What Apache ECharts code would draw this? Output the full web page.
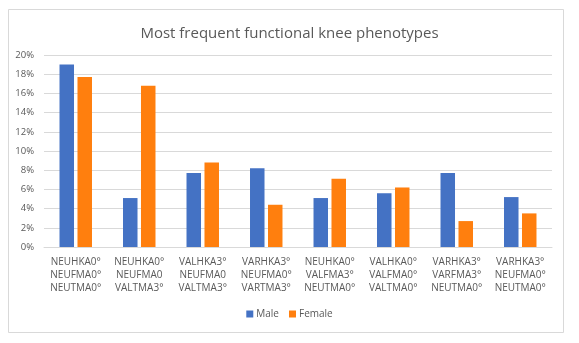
<!DOCTYPE html>
<html><head><meta charset="utf-8">
<script src="https://cdn.jsdelivr.net/npm/echarts@6/dist/echarts.min.js"></script>
<style>html,body{margin:0;padding:0;background:#fff}#c{width:579px;height:343px}</style>
</head><body><div id="c"></div>
<script>
const categories = [
  "NEUHKA0°\nNEUFMA0°\nNEUTMA0°",
  "NEUHKA0°\nNEUFMA0\nVALTMA3°",
  "VALHKA3°\nNEUFMA0\nVALTMA3°",
  "VARHKA3°\nNEUFMA0°\nVARTMA3°",
  "NEUHKA0°\nVALFMA3°\nNEUTMA0°",
  "VALHKA0°\nVALFMA0°\nVALTMA0°",
  "VARHKA3°\nVARFMA3°\nNEUTMA0°",
  "VARHKA3°\nNEUFMA0°\nNEUTMA0°"
];
const male = [19.0, 5.1, 7.7, 8.2, 5.1, 5.6, 7.7, 5.2];
const female = [17.7, 16.8, 8.8, 4.4, 7.1, 6.2, 2.7, 3.5];
const title = "Most frequent functional knee phenotypes";
const font = "Open Sans";
const chart = echarts.init(document.getElementById('c'), null, {renderer:'canvas'});
chart.setOption({
  animation:false,
  backgroundColor:'#fff',
  graphic:[{type:'rect',shape:{x:8.5,y:9.5,width:555,height:323},style:{fill:'none',stroke:'#d9d9d9',lineWidth:1},silent:true}],
  title:{text:title,left:'center',top:21,textStyle:{fontFamily:font,fontSize:15,fontWeight:'normal',color:'#595959'}},
  legend:{bottom:19,left:'center',itemWidth:7,itemHeight:7,itemGap:10,icon:'rect',
    textStyle:{fontFamily:font,fontSize:10,color:'#595959',padding:[0,0,0,-2]},data:['Male','Female']},
  grid:{left:44,right:27,top:55,bottom:96,containLabel:false},
  xAxis:{type:'category',data:categories,
    axisLine:{lineStyle:{color:'#d9d9d9'}},axisTick:{show:false},
    axisLabel:{fontFamily:font,fontSize:10,color:'#595959',lineHeight:12.7,margin:9,interval:0}},
  yAxis:{type:'value',min:0,max:20,interval:2,
    axisLine:{show:false},axisTick:{show:false},
    splitLine:{lineStyle:{color:'#d9d9d9'}},
    axisLabel:{fontFamily:font,fontSize:9.5,color:'#595959',margin:10,formatter:'{value}%'}},
  series:[
    {name:'Male',type:'bar',data:male,barWidth:14.5,barGap:'24%',itemStyle:{color:'#4472c4'}},
    {name:'Female',type:'bar',data:female,barWidth:14.5,itemStyle:{color:'#ff7f0e'}}
  ]
});
</script></body></html>
